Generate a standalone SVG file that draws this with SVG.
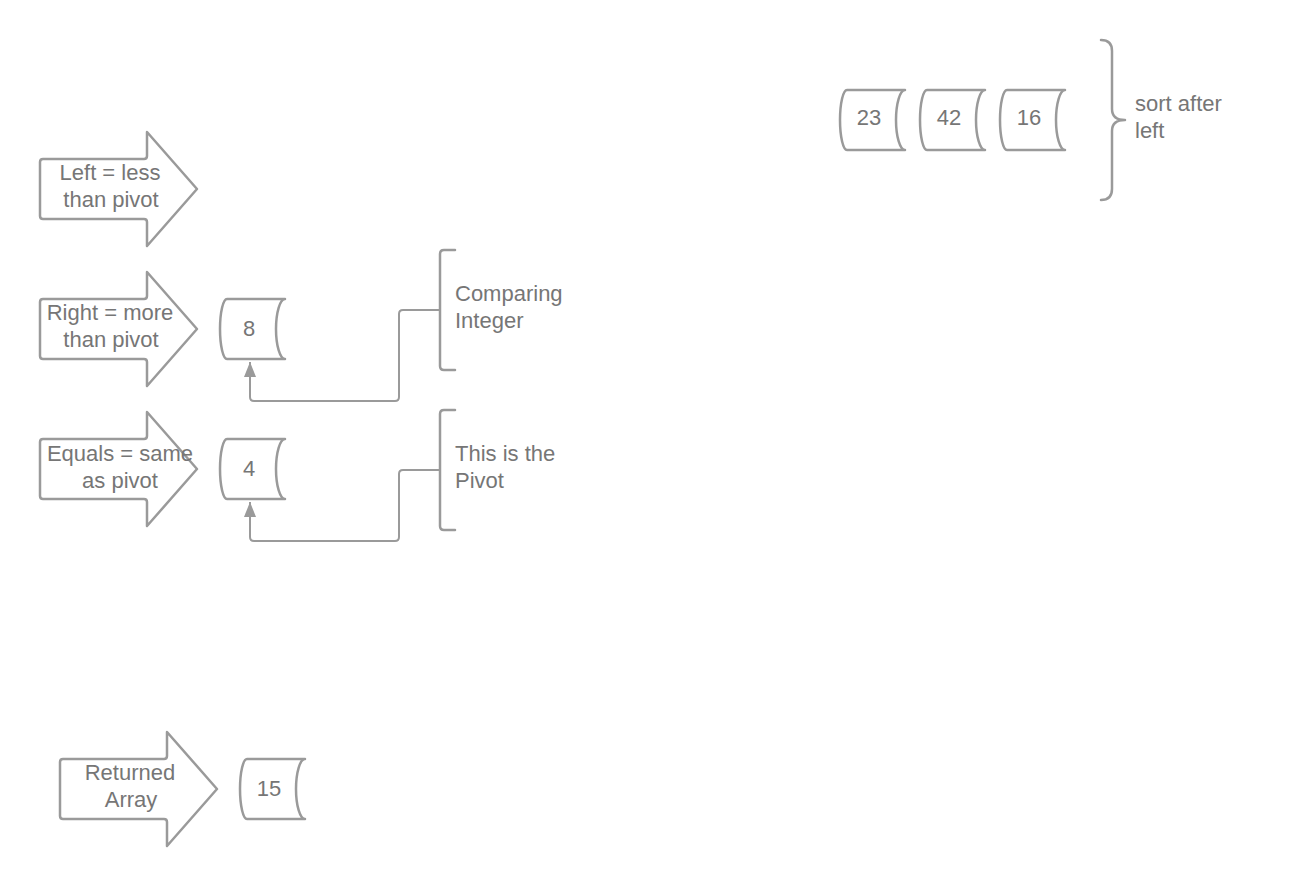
<svg xmlns="http://www.w3.org/2000/svg" width="1300" height="890" viewBox="0 0 1300 890">
<defs>
<style>
.shape{fill:#fff;stroke:#9a9a9a;stroke-width:2.5;stroke-linejoin:round}
.line{fill:none;stroke:#9a9a9a;stroke-width:2;stroke-linejoin:round}
.brk{fill:none;stroke:#9a9a9a;stroke-width:2.5;stroke-linejoin:round;stroke-linecap:round}
text{font-family:"Liberation Sans",Arial,sans-serif;font-size:22px;fill:#767676}
.c{text-anchor:middle}
</style>
<marker id="ah" markerWidth="15" markerHeight="12" refX="15" refY="6" orient="auto" markerUnits="userSpaceOnUse">
<path d="M0,0 L15,6 L0,12 Z" fill="#9a9a9a"/>
</marker>
<path id="arrowShape" d="M3,-30 L104,-30 Q107,-30 107,-33 L107,-57 L157,0 L107,57 L107,33 Q107,30 104,30 L3,30 Q0,30 0,27 L0,-27 Q0,-30 3,-30 Z"/>
<path id="cyl" d="M7,0 L65,0 A9,30 0 0 0 65,60 L7,60 A7,30 0 0 1 7,0 Z"/>
</defs>

<g id="connectors">
<path class="line" d="M440,310 L403,310 Q399,310 399,314 L399,397 Q399,401 395,401 L254,401 Q250,401 250,397 L250,362" marker-end="url(#ah)"/>
<path class="line" d="M440,470 L403,470 Q399,470 399,474 L399,537 Q399,541 395,541 L254,541 Q250,541 250,537 L250,502" marker-end="url(#ah)"/>
</g>

<g id="arrow-left">
<use href="#arrowShape" class="shape" transform="translate(40,189)"/>
<text class="c" x="110" y="180">Left = less</text>
<text class="c" x="111" y="207">than pivot</text>
</g>
<g id="arrow-right">
<use href="#arrowShape" class="shape" transform="translate(40,329)"/>
<text class="c" x="110" y="320">Right = more</text>
<text class="c" x="111" y="347">than pivot</text>
</g>
<g id="arrow-equals">
<use href="#arrowShape" class="shape" transform="translate(40,469)"/>
<text class="c" x="120" y="461">Equals = same</text>
<text class="c" x="120" y="488">as pivot</text>
</g>
<g id="arrow-returned">
<use href="#arrowShape" class="shape" transform="translate(60,789)"/>
<text class="c" x="130" y="780">Returned</text>
<text class="c" x="131" y="807">Array</text>
</g>

<g id="cyl-8">
<use href="#cyl" class="shape" transform="translate(220,299)"/>
<text class="c" x="249" y="336">8</text>
</g>
<g id="cyl-4">
<use href="#cyl" class="shape" transform="translate(220,439)"/>
<text class="c" x="249" y="476">4</text>
</g>
<g id="cyl-15">
<use href="#cyl" class="shape" transform="translate(240,759)"/>
<text class="c" x="269" y="796">15</text>
</g>
<g id="cyl-23">
<use href="#cyl" class="shape" transform="translate(840,90)"/>
<text class="c" x="869" y="125">23</text>
</g>
<g id="cyl-42">
<use href="#cyl" class="shape" transform="translate(920,90)"/>
<text class="c" x="949" y="125">42</text>
</g>
<g id="cyl-16">
<use href="#cyl" class="shape" transform="translate(1000,90)"/>
<text class="c" x="1029" y="125">16</text>
</g>

<g id="bracket-comparing">
<path class="brk" d="M455,250 L444,250 Q440,250 440,254 L440,366 Q440,370 444,370 L455,370"/>
<text x="455" y="301">Comparing</text>
<text x="455" y="328">Integer</text>
</g>
<g id="bracket-pivot">
<path class="brk" d="M455,410 L444,410 Q440,410 440,414 L440,526 Q440,530 444,530 L455,530"/>
<text x="455" y="461">This is the</text>
<text x="455" y="488">Pivot</text>
</g>
<g id="brace-sort">
<path class="brk" d="M1101,40 Q1112,40 1112,51 L1112,109 Q1112,120 1125,120 Q1112,120 1112,131 L1112,189 Q1112,200 1101,200"/>
<text x="1135" y="111">sort after</text>
<text x="1135" y="138">left</text>
</g>
</svg>
